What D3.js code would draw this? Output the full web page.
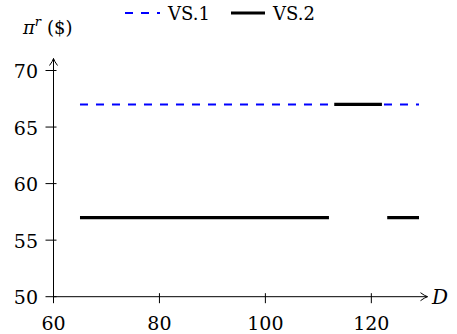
<!DOCTYPE html>
<html>
<head>
<meta charset="utf-8">
<script src="https://cdn.jsdelivr.net/npm/d3@7"></script>
<style>
  body { margin: 0; background: #fff; }
</style>
</head>
<body>
<svg id="chart"></svg>
<script>
// tick values on both axes
var xTicks = [60, 80, 100, 120];
var yTicks = [50, 55, 60, 65, 70];

// VS.1 : one dashed line
var vs1D = [65, 129];
var vs1Pi = [67, 67];

// VS.2 : three flat pieces
var vs2Start = [65, 113, 123];
var vs2End = [112, 122, 129];
var vs2Pi = [57, 67, 57];

var screen = {width: 457, height: 334};
var font = "DejaVu Serif";

var svg = d3.select("#chart")
    .attr("width", screen.width)
    .attr("height", screen.height)
    .attr("font-family", font);

var xScale = d3.scaleLinear()
    .domain([60, 130])
    .range([53.5, 424.3]);

var yScale = d3.scaleLinear()
    .domain([50, 70])
    .range([296.7, 70.5]);

// arrow head
svg.append("defs").append("marker")
    .attr("id", "arrow")
    .attr("viewBox", "0 0 10 10")
    .attr("refX", 9).attr("refY", 5)
    .attr("markerWidth", 10).attr("markerHeight", 10)
    .attr("markerUnits", "userSpaceOnUse")
    .attr("orient", "auto")
    .append("path")
    .attr("d", "M2,1 Q6,4 9,5 Q6,6 2,9")
    .attr("fill", "none")
    .attr("stroke", "#000")
    .attr("stroke-width", 1);

// data lines first, axes on top like the original
var line = d3.line()
    .x(function(d) { return xScale(d[0]); })
    .y(function(d) { return yScale(d[1]); });

svg.append("path")
    .datum(vs1D.map(function(d, i) { return [d, vs1Pi[i]]; }))
    .attr("d", line)
    .attr("fill", "none")
    .attr("stroke", "#0000ff")
    .attr("stroke-width", 2)
    .attr("stroke-dasharray", "8,8");

svg.selectAll(".vs2")
    .data(vs2Pi)
    .enter()
    .append("path")
    .attr("class", "vs2")
    .attr("d", function(p, i) { return line([[vs2Start[i], p], [vs2End[i], p]]); })
    .attr("fill", "none")
    .attr("stroke", "#000")
    .attr("stroke-width", 3.2);

// axes
var axes = svg.append("g");

axes.append("line")
    .attr("x1", xScale(60)).attr("x2", 427.5)
    .attr("y1", yScale(50)).attr("y2", yScale(50))
    .attr("stroke", "#000").attr("stroke-width", 1)
    .attr("marker-end", "url(#arrow)");

axes.append("line")
    .attr("x1", xScale(60)).attr("x2", xScale(60))
    .attr("y1", yScale(50)).attr("y2", 58.5)
    .attr("stroke", "#000").attr("stroke-width", 1)
    .attr("marker-end", "url(#arrow)");

axes.selectAll(".xtick")
    .data(xTicks)
    .enter()
    .append("line")
    .attr("x1", function(d) { return xScale(d); })
    .attr("x2", function(d) { return xScale(d); })
    .attr("y1", yScale(50) - 3.5)
    .attr("y2", yScale(50) + 6.5)
    .attr("stroke", "#000");

axes.selectAll(".xlab")
    .data(xTicks)
    .enter()
    .append("text")
    .attr("x", function(d) { return xScale(d); })
    .attr("y", 330)
    .attr("text-anchor", "middle")
    .attr("font-size", 19)
    .text(function(d) { return d; });

axes.selectAll(".ytick")
    .data(yTicks)
    .enter()
    .append("line")
    .attr("x1", xScale(60) - 8)
    .attr("x2", xScale(60) + 3)
    .attr("y1", function(d) { return yScale(d); })
    .attr("y2", function(d) { return yScale(d); })
    .attr("stroke", "#000");

axes.selectAll(".ylab")
    .data(yTicks)
    .enter()
    .append("text")
    .attr("x", 38)
    .attr("y", function(d) { return yScale(d) + 7.5; })
    .attr("text-anchor", "end")
    .attr("font-size", 19)
    .text(function(d) { return d; });

// axis names
svg.append("text")
    .attr("x", 432).attr("y", 304)
    .attr("font-size", 20)
    .attr("font-style", "italic")
    .text("D");

var yName = svg.append("text")
    .attr("x", 23).attr("y", 34)
    .attr("font-size", 18);
yName.append("tspan").attr("font-style", "italic").text("π");
yName.append("tspan").attr("font-size", 13).attr("font-style", "italic")
    .attr("dy", -8).text("r");
yName.append("tspan").attr("dy", 8).attr("dx", 6).text("($)");

// legend
var legend = svg.append("g");
legend.append("line")
    .attr("x1", 125).attr("x2", 160)
    .attr("y1", 13).attr("y2", 13)
    .attr("stroke", "#0000ff").attr("stroke-width", 2)
    .attr("stroke-dasharray", "8,8");
legend.append("text")
    .attr("x", 168).attr("y", 20)
    .attr("font-size", 18)
    .text("VS.1");
legend.append("line")
    .attr("x1", 231).attr("x2", 265)
    .attr("y1", 13).attr("y2", 13)
    .attr("stroke", "#000").attr("stroke-width", 3.2);
legend.append("text")
    .attr("x", 273).attr("y", 20)
    .attr("font-size", 18)
    .text("VS.2");
</script>
</body>
</html>
